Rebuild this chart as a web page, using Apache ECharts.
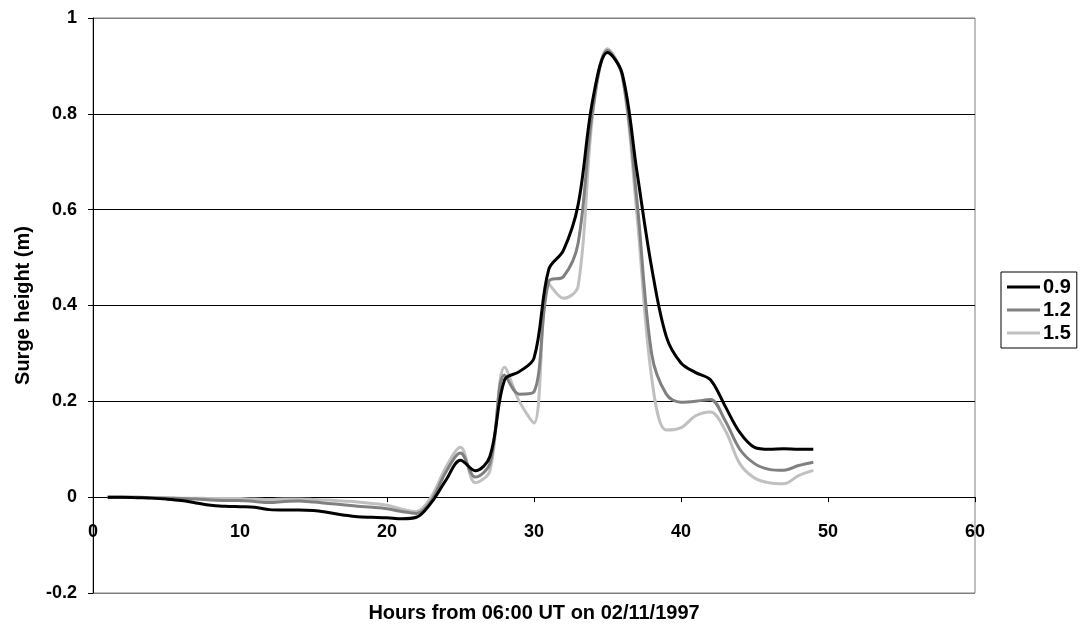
<!DOCTYPE html>
<html>
<head>
<meta charset="utf-8">
<script src="https://cdn.jsdelivr.net/npm/echarts@6/dist/echarts.min.js"></script>
<style>html,body{margin:0;padding:0;background:#fff}#c{width:1080px;height:639px}</style>
</head>
<body>
<div id="c"></div>
<script>
const hours = [1,2,3,4,5,6,7,8,9,10,11,12,13,14,15,16,17,18,19,20,21,22,23,24,25,26,27,28,29,30,31,32,33,34,35,36,37,38,39,40,41,42,43,44,45,46,47,48,49];
const s09 = [0,0,-0.001,-0.002,-0.004,-0.007,-0.012,-0.017,-0.019,-0.02,-0.021,-0.026,-0.027,-0.027,-0.028,-0.032,-0.037,-0.041,-0.042,-0.043,-0.045,-0.042,-0.012,0.035,0.077,0.055,0.085,0.245,0.262,0.29,0.475,0.515,0.61,0.83,0.928,0.884,0.68,0.48,0.335,0.28,0.26,0.245,0.19,0.135,0.104,0.1,0.101,0.1,0.1];
const s12 = [0,0,0,-0.001,-0.002,-0.003,-0.004,-0.006,-0.007,-0.007,-0.009,-0.011,-0.009,-0.008,-0.01,-0.013,-0.016,-0.019,-0.021,-0.024,-0.03,-0.034,-0.008,0.052,0.092,0.042,0.07,0.255,0.215,0.22,0.45,0.46,0.53,0.81,0.932,0.88,0.62,0.3,0.215,0.198,0.2,0.204,0.16,0.1,0.07,0.058,0.056,0.066,0.073];
const s15 = [0,0,0,-0.001,-0.001,-0.002,-0.002,-0.003,-0.003,-0.003,-0.004,-0.005,-0.004,-0.004,-0.005,-0.006,-0.008,-0.01,-0.013,-0.017,-0.025,-0.03,0,0.062,0.104,0.03,0.055,0.271,0.2,0.155,0.445,0.415,0.44,0.8,0.936,0.88,0.59,0.25,0.14,0.145,0.17,0.178,0.14,0.07,0.04,0.03,0.028,0.045,0.056];
const seriesNames = ['0.9','1.2','1.5'];
const seriesColors = ['#000000','#808080','#c0c0c0'];
const yTicks = [-0.2,0,0.2,0.4,0.6,0.8,1];
const xTitle = 'Hours from 06:00 UT on 02/11/1997';
const yTitle = 'Surge height (m)';

const pairs = arr => hours.map((h,i)=>[h,arr[i]]);
const chart = echarts.init(document.getElementById('c'));
const font = 'Liberation Sans, Arial, sans-serif';
chart.setOption({
  animation:false,
  textStyle:{fontFamily:font},
  title:{text:xTitle,left:534,top:603,textAlign:'center',padding:0,
    textStyle:{fontSize:20,fontWeight:'bold',color:'#000',fontFamily:font}},
  grid:{left:93,right:105,top:18,bottom:46,outerBoundsMode:'none',containLabel:false,
    show:true,borderColor:'#808080',borderWidth:1,backgroundColor:'#fff'},
  legend:{
    orient:'vertical',left:1001,top:272,
    data:seriesNames,icon:'rect',
    borderColor:'#000',borderWidth:1,
    padding:[5,6,5,6],
    itemGap:3,itemWidth:33,itemHeight:3,
    textStyle:{fontSize:20,fontWeight:'bold',color:'#000',fontFamily:font,padding:[0,0,0,-2]}
  },
  xAxis:{
    type:'value',min:0,max:60,interval:10,
    axisLine:{onZero:true,lineStyle:{color:'#000',width:1}},
    axisTick:{show:true,inside:false,length:5,lineStyle:{color:'#000'}},
    axisLabel:{margin:-70,fontSize:18,fontWeight:'bold',color:'#000',fontFamily:font},
    splitLine:{show:false}
  },
  yAxis:{
    type:'value',min:-0.2,max:1,interval:0.2,
    axisLine:{show:true,lineStyle:{color:'#000',width:1}},
    axisTick:{show:true,length:5,lineStyle:{color:'#000'}},
    axisLabel:{margin:16,fontSize:18,fontWeight:'bold',color:'#000',fontFamily:font,
      formatter:v=>{const t=yTicks.find(x=>Math.abs(x-v)<1e-6);return String(t!==undefined?Math.round(t*10)/10:v);}},
    splitLine:{show:true,lineStyle:{color:['#808080','#000','#000','#000','#000','#000','#808080'],width:1}},
    name:yTitle,nameLocation:'middle',nameGap:60,nameRotate:90,
    nameTextStyle:{fontSize:20,fontWeight:'bold',color:'#000',fontFamily:font}
  },
  series:[s09,s12,s15].map((arr,i)=>({
    name:seriesNames[i],type:'line',data:pairs(arr),
    symbol:'none',smooth:0.35,
    lineStyle:{color:seriesColors[i],width:3},
    itemStyle:{color:seriesColors[i]},
    z:10-i
  }))
});
</script>
</body>
</html>
